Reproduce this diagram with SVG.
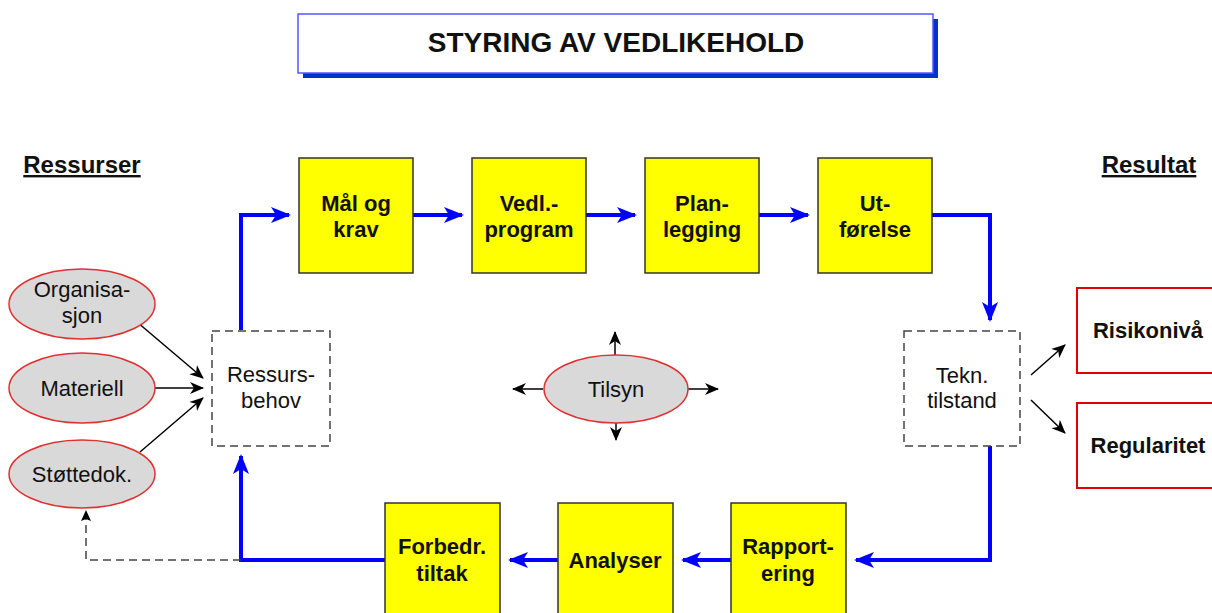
<svg xmlns="http://www.w3.org/2000/svg" width="1212" height="613" viewBox="0 0 1212 613">
<defs>
<marker id="abB" markerWidth="20" markerHeight="20" refX="18" refY="10" orient="auto" markerUnits="userSpaceOnUse" viewBox="0 0 20 20"><path d="M0,2 L20,10 L0,18 L5,10 z" fill="#0000ff"/></marker>
<marker id="ak" markerWidth="14" markerHeight="14" refX="13" refY="7" orient="auto" markerUnits="userSpaceOnUse" viewBox="0 0 14 14"><path d="M0,1 L14,7 L0,13 L4,7 z" fill="#000"/></marker>
</defs>
<style>
.t{font-family:"Liberation Sans",Arial,sans-serif;fill:#111;text-anchor:middle}
.b{font-weight:bold;font-size:22px}
.r{font-size:22px}
.y{fill:#ffff00;stroke:#333;stroke-width:1.5}
.el{fill:#d9d9d9;stroke:#e03030;stroke-width:1.5}
.d{fill:#fff;stroke:#444;stroke-width:1.5;stroke-dasharray:8,5}
.rb{fill:#fff;stroke:#e00000;stroke-width:2}
.bl{fill:none;stroke:#0000ff;stroke-width:4}
.k{fill:none;stroke:#000;stroke-width:1.5}
</style>
<rect width="1212" height="613" fill="#fff"/>
<g id="title">
<rect x="303" y="19" width="635" height="59" fill="#0033cc"/>
<rect x="298" y="14" width="635" height="59" fill="#fff" stroke="#5555ff" stroke-width="1.5"/>
<text class="t" x="616" y="52" style="font-weight:bold;font-size:28px">STYRING AV VEDLIKEHOLD</text>
</g>
<g id="ressurser"><text class="t b" x="82" y="173" style="font-size:24px;text-decoration:underline">Ressurser</text></g>
<g id="resultat"><text class="t b" x="1149" y="173" style="font-size:24px;text-decoration:underline">Resultat</text></g>
<g id="connectors">
<path class="bl" d="M241,330 V215 H289" marker-end="url(#abB)"/>
<path class="bl" d="M413,215 H462" marker-end="url(#abB)"/>
<path class="bl" d="M586,215 H635" marker-end="url(#abB)"/>
<path class="bl" d="M759,215 H808" marker-end="url(#abB)"/>
<path class="bl" d="M932,215 H990 V320" marker-end="url(#abB)"/>
<path class="bl" d="M990,446 V560 H856" marker-end="url(#abB)"/>
<path class="bl" d="M731,560 H683" marker-end="url(#abB)"/>
<path class="bl" d="M558,560 H510" marker-end="url(#abB)"/>
<path class="bl" d="M385,560 H241 V456" marker-end="url(#abB)"/>
<path d="M241,560 H86 V518" fill="none" stroke="#444" stroke-width="1.5" stroke-dasharray="8,5"/>
<path d="M86,510 L81,521 L86,519 L91,521 z" fill="#000"/>
<path class="k" d="M137,322 L203,378" marker-end="url(#ak)"/>
<path class="k" d="M155,388 L203,388" marker-end="url(#ak)"/>
<path class="k" d="M140,452 L203,398" marker-end="url(#ak)"/>
<path class="k" d="M615,355 V332" marker-end="url(#ak)"/>
<path class="k" d="M616,422 V440" marker-end="url(#ak)"/>
<path class="k" d="M543,389 H513" marker-end="url(#ak)"/>
<path class="k" d="M688,389 H718" marker-end="url(#ak)"/>
<path class="k" d="M1031,375 L1065,345" marker-end="url(#ak)"/>
<path class="k" d="M1031,400 L1065,433" marker-end="url(#ak)"/>
</g>
<g id="maal"><rect class="y" x="299" y="158" width="114" height="115"/><text class="t b" x="356" y="211">Mål og</text><text class="t b" x="356" y="237">krav</text></g>
<g id="vedl"><rect class="y" x="472" y="158" width="114" height="115"/><text class="t b" x="529" y="211">Vedl.-</text><text class="t b" x="529" y="237">program</text></g>
<g id="plan"><rect class="y" x="645" y="158" width="114" height="115"/><text class="t b" x="702" y="211">Plan-</text><text class="t b" x="702" y="237">legging</text></g>
<g id="ut"><rect class="y" x="818" y="158" width="114" height="115"/><text class="t b" x="875" y="211">Ut-</text><text class="t b" x="875" y="237">førelse</text></g>
<g id="forbedr"><rect class="y" x="385" y="503" width="115" height="115"/><text class="t b" x="442" y="554">Forbedr.</text><text class="t b" x="442" y="581">tiltak</text></g>
<g id="analyser"><rect class="y" x="558" y="503" width="115" height="115"/><text class="t b" x="615" y="568">Analyser</text></g>
<g id="rapport"><rect class="y" x="731" y="503" width="115" height="115"/><text class="t b" x="788" y="554">Rapport-</text><text class="t b" x="788" y="581">ering</text></g>
<g id="ressursbehov"><rect class="d" x="212" y="331" width="118" height="115"/><text class="t r" x="271" y="382">Ressurs-</text><text class="t r" x="271" y="408">behov</text></g>
<g id="tekn"><rect class="d" x="904" y="331" width="116" height="115"/><text class="t r" x="962" y="383">Tekn.</text><text class="t r" x="962" y="408">tilstand</text></g>
<g id="org"><ellipse class="el" cx="82" cy="304" rx="73" ry="35"/><text class="t r" x="82" y="297">Organisa-</text><text class="t r" x="82" y="323">sjon</text></g>
<g id="materiell"><ellipse class="el" cx="82" cy="388" rx="73" ry="35"/><text class="t r" x="82" y="396">Materiell</text></g>
<g id="stotte"><ellipse class="el" cx="82" cy="474" rx="73" ry="34"/><text class="t r" x="82" y="482">Støttedok.</text></g>
<g id="tilsyn"><ellipse class="el" cx="616" cy="389" rx="72" ry="34"/><text class="t r" x="616" y="397">Tilsyn</text></g>
<g id="risiko"><rect class="rb" x="1077" y="288" width="150" height="85"/><text class="t b" x="1148" y="338">Risikonivå</text></g>
<g id="regularitet"><rect class="rb" x="1077" y="403" width="150" height="85"/><text class="t b" x="1148" y="453">Regularitet</text></g>
</svg>
